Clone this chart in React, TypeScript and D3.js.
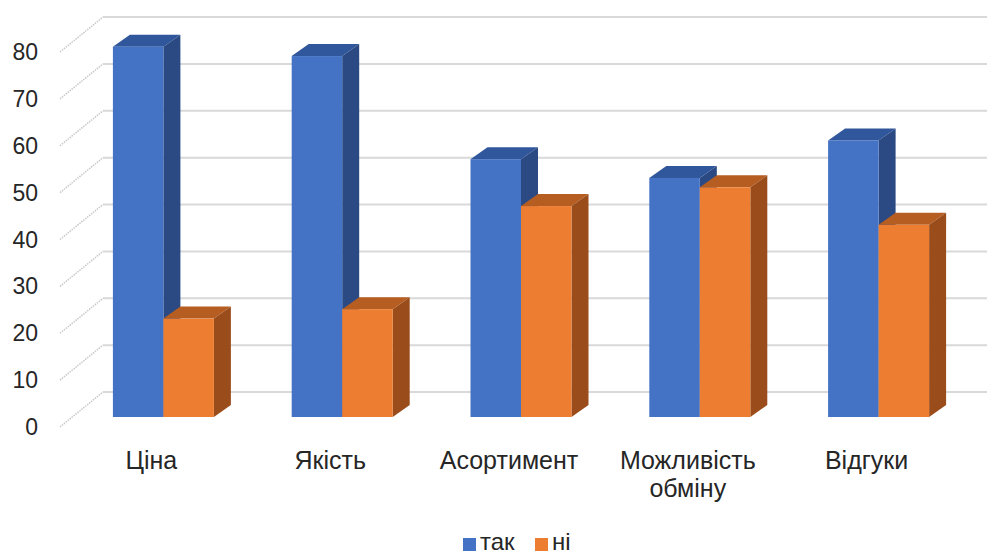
import React from 'react';
import * as d3 from 'd3';

const categories = ['Ціна', 'Якість', 'Асортимент', 'Можливість обміну', 'Відгуки'];
const categoryLines = [['Ціна'], ['Якість'], ['Асортимент'], ['Можливість', 'обміну'], ['Відгуки']];
const series = ['так', 'ні'];
const yesValues = [79, 77, 55, 51, 59];
const noValues = [21, 23, 45, 49, 41];
const yTicks = [0, 10, 20, 30, 40, 50, 60, 70, 80];

const colors = {
  так: { front: '#4472c4', top: '#30569b', side: '#2b4a83' },
  ні: { front: '#ed7d31', top: '#b65d22', side: '#9a4d1b' },
};

const W = 987;
const H = 556;
const font = '"Liberation Sans", Arial, sans-serif';

// floor / wall geometry
const floorFront = 427;
const wallLeft = 103;
const axisLeft = 60;
const depthY = -35;
// bar box depth
const barDX = 17;
const barDY = -12;
const barBase = 417;

const App = () => {
  const y = d3.scaleLinear().domain([0, 80]).range([0, 375]);
  const x0 = d3.scaleBand<string>().domain(categories).range([74, 968]);
  const x1 = d3.scaleBand<string>().domain(series).range([-50.5, 50.5]);

  const bars = categories.map((c, i) => ({
    c,
    vals: [
      { s: 'так', v: yesValues[i] },
      { s: 'ні', v: noValues[i] },
    ],
  }));

  return (
    <svg width={W} height={H} style={{ position: 'fixed', left: 0, top: 0, background: '#fff' }}>
      {/* back wall gridlines + side wall */}
      {yTicks.map(t => (
        <g key={t}>
          <line x1={wallLeft} x2={W} y1={floorFront + depthY - y(t)} y2={floorFront + depthY - y(t)}
            stroke="#d9d9d9" strokeWidth={2} />
          <line x1={axisLeft} x2={wallLeft} y1={floorFront - y(t)} y2={floorFront + depthY - y(t)}
            stroke="#c8c8c8" strokeWidth={1.5} strokeDasharray="1.5 1" />
          <text x={38} y={floorFront - y(t)} textAnchor="end" dominantBaseline="central"
            fontFamily={font} fontSize={23} fill="#262626">{t}</text>
        </g>
      ))}

      {/* bars */}
      {bars.map(b => {
        const cx = (x0(b.c) as number) + x0.bandwidth() / 2;
        return (
          <g key={b.c}>
            {b.vals.map(d => {
              const xl = cx + (x1(d.s) as number);
              const xr = xl + x1.bandwidth();
              const yt = barBase - y(d.v);
              const col = colors[d.s as 'так' | 'ні'];
              return (
                <g key={d.s}>
                  <polygon fill={col.top}
                    points={`${xl},${yt} ${xl + barDX},${yt + barDY} ${xr + barDX},${yt + barDY} ${xr},${yt}`} />
                  <polygon fill={col.side}
                    points={`${xr},${yt} ${xr + barDX},${yt + barDY} ${xr + barDX},${barBase + barDY} ${xr},${barBase}`} />
                  <rect x={xl} y={yt} width={x1.bandwidth()} height={y(d.v)} fill={col.front} />
                </g>
              );
            })}
          </g>
        );
      })}

      {/* category labels */}
      {categories.map((c, i) => {
        const cx = (x0(c) as number) + x0.bandwidth() / 2 - 12;
        return (
          <text key={c} x={cx} y={469} textAnchor="middle" fontFamily={font} fontSize={25} fill="#262626">
            {categoryLines[i].map((l, j) => (
              <tspan key={j} x={cx} dy={j === 0 ? 0 : 28}>{l}</tspan>
            ))}
          </text>
        );
      })}

      {/* legend */}
      <g fontFamily={font} fontSize={24} fill="#262626">
        <rect x={463} y={538} width={13} height={13} fill={colors['так'].front} />
        <text x={480} y={550}>так</text>
        <rect x={535} y={538} width={13} height={13} fill={colors['ні'].front} />
        <text x={552} y={550}>ні</text>
      </g>
    </svg>
  );
};

export default App;
